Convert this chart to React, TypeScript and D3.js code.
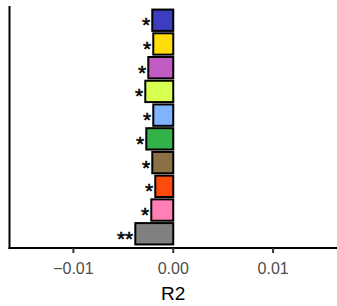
// Horizontal R2 bars with significance stars, drawn with d3 scales in JSX.
import * as d3 from "d3";

const groups = ["g1", "g2", "g3", "g4", "g5", "g6", "g7", "g8", "g9", "g10"];
const r2 = [-0.0021, -0.002, -0.0025, -0.0028, -0.002, -0.0027, -0.0021, -0.0018, -0.0022, -0.0038];
const stars = ["*", "*", "*", "*", "*", "*", "*", "*", "*", "**"];
const fills = ["#3d3dbf", "#ffdc0a", "#c05cc4", "#d6ff52", "#80b4ff", "#33b34a", "#8a7044", "#ff4a0d", "#ff80b4", "#808080"];
const xTicks = [-0.01, 0, 0.01];

const W = 337;
const H = 306;

export default function App() {
  const x = d3.scaleLinear().domain([-0.0164, 0.0164]).range([9.5, 337]);
  const y = d3.scalePoint<string>().domain(groups).range([6, 248]).padding(0.6);
  const bh = y.step() * 0.9;
  const axisY = 248;
  const fmt = (v: number) => (v === 0 ? "0.00" : d3.format(".2f")(v).replace("-", "\u2212"));

  return (
    <svg width={W} height={H} style={{ position: "absolute", left: 0, top: 0, background: "#fff" }}
      fontFamily="'Liberation Sans', Arial, sans-serif">
      {groups.map((g, i) => {
        const cy = y(g)!;
        const x0 = x(r2[i]);
        return (
          <g key={g}>
            <rect x={x0} y={cy - bh / 2} width={x(0) - x0} height={bh}
              fill={fills[i]} stroke="#000" strokeWidth={2} />
            <text x={x0 - 2} y={cy + 12} textAnchor="end" fontSize={21}
              fill="#000" stroke="#000" strokeWidth={0.5}>{stars[i]}</text>
          </g>
        );
      })}
      {/* axes */}
      <line x1={9.5} x2={9.5} y1={6} y2={axisY + 1} stroke="#000" strokeWidth={2} />
      <line x1={8.5} x2={W} y1={axisY} y2={axisY} stroke="#000" strokeWidth={2} />
      {xTicks.map(t => (
        <g key={t} transform={`translate(${x(t)},${axisY})`}>
          <line y1={0} y2={5} stroke="#333" strokeWidth={2} />
          <text y={26} textAnchor="middle" fontSize={16} fill="#4d4d4d">{fmt(t)}</text>
        </g>
      ))}
      <text x={x(0)} y={300} textAnchor="middle" fontSize={19} fill="#000">R2</text>
    </svg>
  );
}
